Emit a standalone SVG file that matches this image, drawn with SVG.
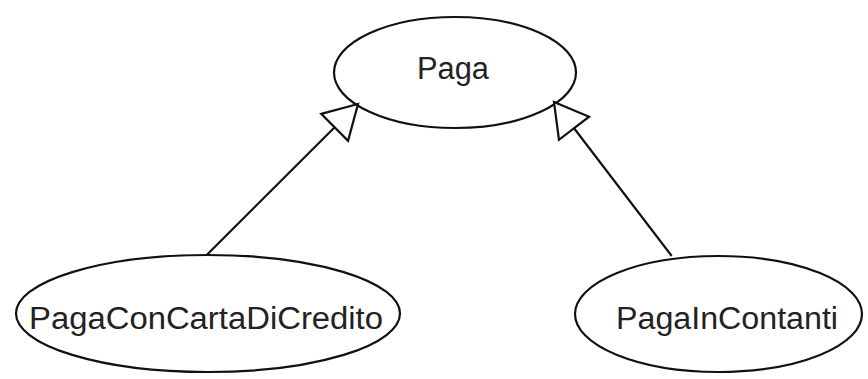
<svg xmlns="http://www.w3.org/2000/svg" width="868" height="379" viewBox="0 0 868 379">
<style>
.node ellipse{fill:#fff;stroke:#111;stroke-width:2.2}
.node text{font-family:"Liberation Sans",Arial,sans-serif;font-size:31px;fill:#222;text-anchor:middle}
.edge{stroke:#111;stroke-width:2.2;fill:none}
</style>
<defs>
<marker id="gen" markerUnits="userSpaceOnUse" viewBox="-37 -23 40 46" markerWidth="40" markerHeight="46" refX="0" refY="0" orient="auto">
<path d="M0,0 L-33,-19 L-33,19 Z" fill="#fff" stroke="#111" stroke-width="2.2" stroke-linejoin="miter"/>
</marker>
</defs>
<rect width="868" height="379" fill="#fff"/>
<g id="node-paga" class="node">
<ellipse cx="455" cy="72.5" rx="121" ry="55.5"/>
<text x="453" y="79" textLength="72" lengthAdjust="spacingAndGlyphs">Paga</text>
</g>
<g id="node-carta" class="node">
<ellipse cx="208" cy="313.5" rx="192" ry="58.5"/>
<text x="206" y="329" textLength="354" lengthAdjust="spacingAndGlyphs">PagaConCartaDiCredito</text>
</g>
<g id="node-contanti" class="node">
<ellipse cx="718.5" cy="314" rx="143.5" ry="58"/>
<text x="727" y="329" textLength="222" lengthAdjust="spacingAndGlyphs">PagaInContanti</text>
</g>
<g id="connectors">
<line class="edge" x1="206.7" y1="255" x2="358" y2="104" marker-end="url(#gen)"/>
<line class="edge" x1="671.7" y1="256" x2="554" y2="102" marker-end="url(#gen)"/>
</g>
</svg>
